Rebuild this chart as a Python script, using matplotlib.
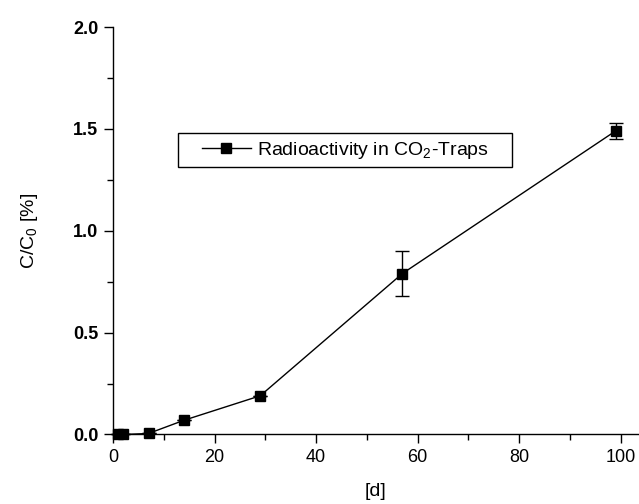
import numpy as np
import matplotlib.pyplot as plt
from matplotlib.lines import Line2D
from matplotlib.patches import Rectangle
from matplotlib.ticker import MultipleLocator

# data
days = [1, 2, 7, 14, 29, 57, 99]
ratio = [0.0, 0.0, 0.005, 0.07, 0.19, 0.79, 1.49]
err = [0.0, 0.0, 0.0, 0.0, 0.0, 0.11, 0.04]

plt.rcParams["font.family"] = ["Liberation Sans", "DejaVu Sans"]
plt.rcParams["mathtext.fontset"] = "custom"
plt.rcParams["mathtext.rm"] = "Liberation Sans"

fig = plt.figure(figsize=(6.39, 5.04), dpi=100)
ax = fig.add_axes([0.1768, 0.1379, 0.8232, 0.8085])

ax.errorbar(days, ratio, yerr=err, color="black", marker="s", markersize=7,
            linewidth=1.0, elinewidth=1.0, capsize=5, capthick=1.0,
            clip_on=False, zorder=3)

ax.set_xlim(0, 103.6)
ax.set_ylim(0, 2.0)
ax.xaxis.set_major_locator(MultipleLocator(20))
ax.xaxis.set_minor_locator(MultipleLocator(10))
ax.yaxis.set_major_locator(MultipleLocator(0.5))
ax.yaxis.set_minor_locator(MultipleLocator(0.25))
ax.yaxis.set_major_formatter(plt.FormatStrFormatter("%.1f"))

for s in ["top", "right"]:
    ax.spines[s].set_visible(False)
for s in ["left", "bottom"]:
    ax.spines[s].set_linewidth(1.0)

ax.tick_params(which="major", direction="out", length=6.5, width=1.0,
               labelsize=13, pad=4)
ax.tick_params(which="minor", direction="out", length=4, width=1.0)
for lbl in ax.get_yticklabels():
    lbl.set_fontweight("bold")

ax.set_xlabel("[d]", fontsize=14, labelpad=12)
ax.set_ylabel("C/C$_\\mathregular{0}$ [%]", fontsize=14, labelpad=24)

# legend without its own frame; a wider box is drawn round it
handle = Line2D([], [], color="black", marker="s", markersize=7, linewidth=1.0)
leg = ax.legend([handle], ["Radioactivity in CO$_\\mathregular{2}$-Traps"],
                loc="upper left", bbox_to_anchor=(0.1236 + 0.033, 0.7406),
                fontsize=14, frameon=False, handlelength=2.5,
                borderpad=0.35, handletextpad=0.3, borderaxespad=0)

fig.canvas.draw()
bb = leg.get_window_extent()
padx = 17
fig.patches.append(Rectangle((bb.x0 - padx, bb.y0), bb.width + 2 * padx, bb.height,
                             transform=None, fill=False, edgecolor="black",
                             linewidth=1.0, zorder=4))

fig.savefig("out.png", dpi=100)
